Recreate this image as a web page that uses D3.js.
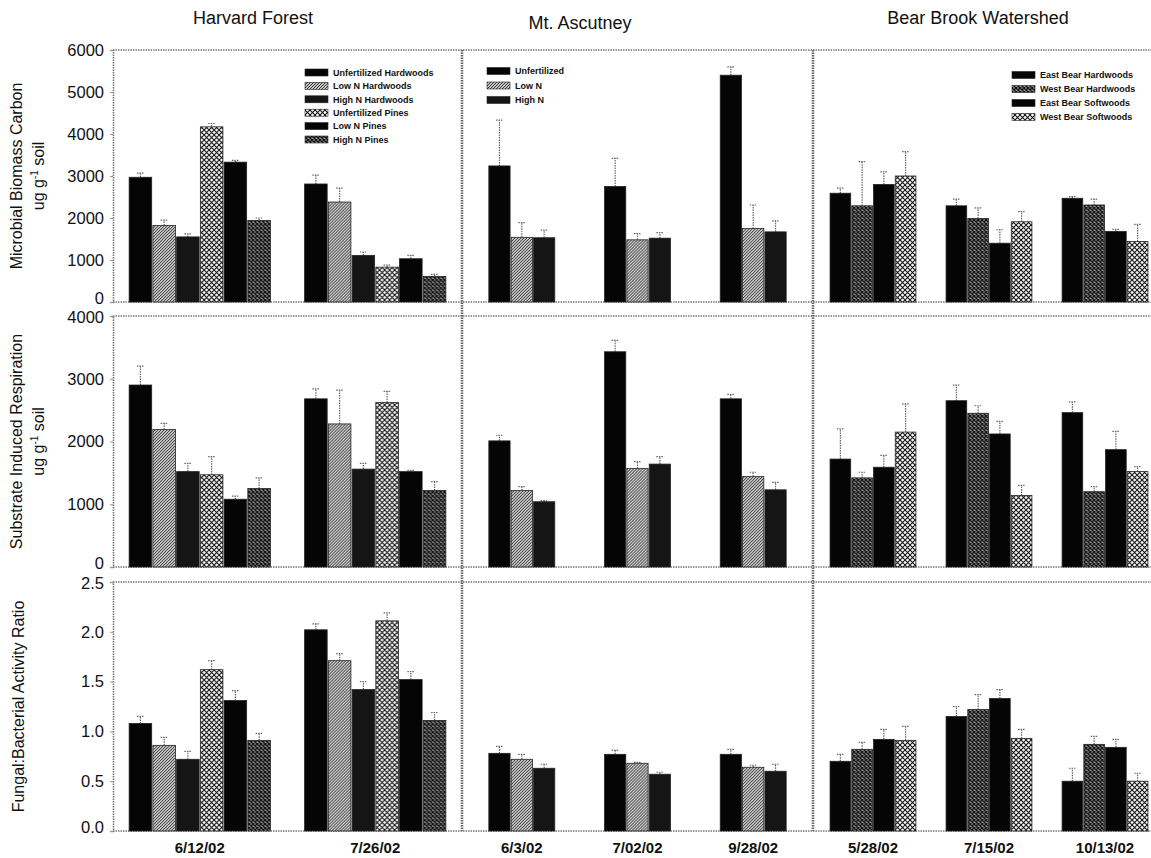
<!DOCTYPE html>
<html>
<head>
<meta charset="utf-8">
<script src="https://cdn.jsdelivr.net/npm/d3@7"></script>
<style>
  body { margin: 0; background: #fff; }
  svg { display: block; }
  text { font-family: "Liberation Sans", Arial, sans-serif; fill: #111; }
</style>
</head>
<body>
<svg id="chart" width="1151" height="858"></svg>
<script>
// ---- Sites, dates and series ----
const siteNames = ["Harvard Forest", "Mt. Ascutney", "Bear Brook Watershed"];

const harvardDates = ["6/12/02", "7/26/02"];
const harvardSeries = ["Unfertilized Hardwoods", "Low N Hardwoods", "High N Hardwoods",
                       "Unfertilized Pines", "Low N Pines", "High N Pines"];
const ascutneyDates = ["6/3/02", "7/02/02", "9/28/02"];
const ascutneySeries = ["Unfertilized", "Low N", "High N"];
const bearDates = ["5/28/02", "7/15/02", "10/13/02"];
const bearSeries = ["East Bear Hardwoods", "West Bear Hardwoods", "East Bear Softwoods", "West Bear Softwoods"];

// fill style per series (solid / hatch / cross / dense)
const harvardFills = ["solid", "hatch", "solid2", "cross", "solid", "dense"];
const ascutneyFills = ["solid", "hatch", "solid2"];
const bearFills = ["solid", "dense", "solid", "cross"];

// ---- Microbial biomass carbon (ug g-1 soil): [date][series], upper error ----
const harvardMBC = [[2970, 1820, 1550, 4170, 3330, 1940], [2810, 2380, 1110, 830, 1030, 610]];
const harvardMBCErr = [[100, 130, 70, 80, 40, 60], [210, 330, 80, 50, 80, 50]];
const ascutneyMBC = [[3240, 1540, 1530], [2750, 1480, 1520], [5400, 1750, 1670]];
const ascutneyMBCErr = [[1090, 350, 180], [670, 150, 130], [200, 560, 260]];
const bearMBC = [[2590, 2290, 2800, 3000], [2290, 1990, 1400, 1910], [2470, 2310, 1680, 1440]];
const bearMBCErr = [[120, 1050, 300, 580], [160, 250, 320, 240], [40, 140, 50, 410]];

// ---- Substrate induced respiration (ug g-1 soil) ----
const harvardSIR = [[2900, 2190, 1520, 1470, 1080, 1250], [2680, 2280, 1560, 2620, 1520, 1220]];
const harvardSIRErr = [[300, 100, 130, 290, 50, 170], [160, 540, 90, 180, 20, 140]];
const ascutneySIR = [[2010, 1220, 1040], [3430, 1570, 1640], [2680, 1440, 1230]];
const ascutneySIRErr = [[90, 60, 20], [180, 110, 120], [70, 70, 120]];
const bearSIR = [[1720, 1420, 1590, 2150], [2650, 2450, 2120, 1140], [2460, 1200, 1870, 1520]];
const bearSIRErr = [[480, 90, 190, 450], [250, 120, 200, 160], [170, 80, 290, 80]];

// ---- Fungal:bacterial activity ratio ----
const harvardFBA = [[1.08, 0.86, 0.72, 1.62, 1.31, 0.91], [2.02, 1.71, 1.42, 2.11, 1.52, 1.11]];
const harvardFBAErr = [[0.07, 0.08, 0.08, 0.09, 0.10, 0.07], [0.06, 0.07, 0.08, 0.08, 0.08, 0.08]];
const ascutneyFBA = [[0.78, 0.72, 0.63], [0.77, 0.68, 0.57], [0.77, 0.64, 0.60]];
const ascutneyFBAErr = [[0.07, 0.05, 0.04], [0.04, 0.01, 0.02], [0.05, 0.02, 0.07]];
const bearFBA = [[0.70, 0.82, 0.92, 0.91], [1.15, 1.22, 1.33, 0.93], [0.50, 0.87, 0.84, 0.50]];
const bearFBAErr = [[0.07, 0.07, 0.10, 0.14], [0.10, 0.15, 0.09, 0.09], [0.13, 0.08, 0.08, 0.08]];

// ---- Axis ticks ----
const mbcTicks = [0, 1000, 2000, 3000, 4000, 5000, 6000];
const sirTicks = [0, 1000, 2000, 3000, 4000];
const fbaTicks = [0, 0.5, 1.0, 1.5, 2.0, 2.5];

// ---- Layout ----
const svg = d3.select("#chart");
const W = 1151, H = 858;

const rows = [
  { top: 50, bottom: 302, max: 6000, ticks: mbcTicks, fmt: d3.format("d"),
    title: ["Microbial Biomass Carbon", "ug g"], sup: true,
    data: [harvardMBC, ascutneyMBC, bearMBC], err: [harvardMBCErr, ascutneyMBCErr, bearMBCErr] },
  { top: 316, bottom: 567, max: 4000, ticks: sirTicks, fmt: d3.format("d"),
    title: ["Substrate Induced Respiration", "ug g"], sup: true,
    data: [harvardSIR, ascutneySIR, bearSIR], err: [harvardSIRErr, ascutneySIRErr, bearSIRErr] },
  { top: 582, bottom: 831, max: 2.5, ticks: fbaTicks, fmt: d3.format(".1f"),
    title: ["Fungal:Bacterial Activity Ratio"], sup: false,
    data: [harvardFBA, ascutneyFBA, bearFBA], err: [harvardFBAErr, ascutneyFBAErr, bearFBAErr] }
];

const cols = [
  { x0: 113, x1: 462, pi: 0.195, po: 0.092, dates: harvardDates, series: harvardSeries, fills: harvardFills },
  { x0: 462, x1: 813, pi: 0.43, po: 0.232, dates: ascutneyDates, series: ascutneySeries, fills: ascutneyFills },
  { x0: 813, x1: 1165, pi: 0.26, po: 0.147, dates: bearDates, series: bearSeries, fills: bearFills }
];

// ---- Fill patterns ----
const defs = svg.append("defs");
function pattern(id, size, paths, sw, bg, ink) {
  const p = defs.append("pattern").attr("id", id).attr("patternUnits", "userSpaceOnUse")
    .attr("width", size).attr("height", size);
  p.append("rect").attr("width", size).attr("height", size).attr("fill", bg);
  p.append("path").attr("d", paths).attr("stroke", ink).attr("stroke-width", sw).attr("fill", "none");
}
pattern("hatch", 3, "M-1,1 l2,-2 M0,3 l3,-3 M2,4 l2,-2", 1.0, "#c8c8c8", "#333");
pattern("cross", 5, "M0,0 L5,5 M5,0 L0,5", 1.1, "#fff", "#111");
pattern("dense", 4, "M0,0 L4,4 M4,0 L0,4", 1.3, "#999", "#111");

const fillFor = f => ({ solid: "#050505", solid2: "#151515", hatch: "url(#hatch)", cross: "url(#cross)", dense: "url(#dense)" }[f]);

const frameColor = "#777";

// ---- Panels ----
rows.forEach((row, ri) => {
  const y = d3.scaleLinear().domain([0, row.max]).range([row.bottom, row.top]);

  // left axis with ticks and labels
  const axis = svg.append("g").attr("transform", `translate(${cols[0].x0},0)`)
    .call(d3.axisLeft(y).tickValues(row.ticks).tickFormat(row.fmt).tickSize(3).tickPadding(6));
  axis.select(".domain").attr("stroke", frameColor).attr("stroke-width", 1.6).attr("stroke-dasharray", "1.5,1");
  axis.selectAll(".tick line").attr("stroke", "#999");
  axis.selectAll(".tick text").attr("font-size", 16.5).attr("fill", "#111")
    .attr("font-family", "Liberation Sans, Arial, sans-serif")
    .attr("dy", d => d === 0 ? "0.12em" : (d === row.max && ri > 0 ? "0.4em" : "0.32em"));

  // top and bottom frame lines
  [row.top, row.bottom].forEach(yy => {
    svg.append("line").attr("x1", cols[0].x0).attr("x2", W).attr("y1", yy).attr("y2", yy)
      .attr("stroke", frameColor).attr("stroke-width", 1.4).attr("stroke-dasharray", "1.5,1");
  });

  // axis title
  const cy = (row.top + row.bottom) / 2;
  if (row.sup) {
    svg.append("text").attr("transform", `translate(22,${cy}) rotate(-90)`)
      .attr("text-anchor", "middle").attr("font-size", 16).text(row.title[0]);
    const t2 = svg.append("text").attr("transform", `translate(44,${cy}) rotate(-90)`)
      .attr("text-anchor", "middle").attr("font-size", 16);
    t2.append("tspan").text("ug g");
    t2.append("tspan").attr("font-size", 10).attr("dy", -6).text("-1");
    t2.append("tspan").attr("dy", 6).text(" soil");
  } else {
    svg.append("text").attr("transform", `translate(24,${cy}) rotate(-90)`)
      .attr("text-anchor", "middle").attr("font-size", 16).text(row.title[0]);
  }

  // bars per site
  cols.forEach((col, ci) => {
    const xg = d3.scaleBand().domain(col.dates).range([col.x0, col.x1])
      .paddingInner(col.pi).paddingOuter(col.po);
    const xs = d3.scaleBand().domain(col.series).range([0, xg.bandwidth()]).paddingInner(0.05);
    const vals = row.data[ci], errs = row.err[ci];

    const g = svg.append("g");
    col.dates.forEach((d, di) => {
      const gg = g.append("g").attr("transform", `translate(${xg(d)},0)`);
      const recs = col.series.map((s, si) => ({ s, v: vals[di][si], e: errs[di][si], f: col.fills[si] }));
      // error bars (upper only, dotted)
      recs.forEach(r => {
        const cx = xs(r.s) + xs.bandwidth() / 2;
        gg.append("line").attr("x1", cx).attr("x2", cx).attr("y1", y(r.v)).attr("y2", y(r.v + r.e))
          .attr("stroke", "#666").attr("stroke-width", 1.2).attr("stroke-dasharray", "1.5,1");
        gg.append("line").attr("x1", cx - 3.5).attr("x2", cx + 3.5).attr("y1", y(r.v + r.e)).attr("y2", y(r.v + r.e))
          .attr("stroke", "#666").attr("stroke-width", 1.2).attr("stroke-dasharray", "1.5,1");
      });
      gg.selectAll("rect.bar").data(recs).join("rect").attr("class", "bar")
        .attr("x", r => xs(r.s)).attr("width", xs.bandwidth())
        .attr("y", r => y(r.v)).attr("height", r => y(0) - y(r.v))
        .attr("fill", r => fillFor(r.f)).attr("stroke", "#222").attr("stroke-width", 0.8);
    });

    // date labels below the bottom row
    if (ri === rows.length - 1) {
      col.dates.forEach(d => {
        svg.append("text").attr("x", xg(d) + xg.bandwidth() / 2).attr("y", 853)
          .attr("text-anchor", "middle").attr("font-size", 15).attr("font-weight", "bold").text(d);
      });
    }
  });
});

// ---- Column dividers ----
[462, 813].forEach(x => {
  svg.append("line").attr("x1", x).attr("x2", x).attr("y1", rows[0].top).attr("y2", rows[2].bottom)
    .attr("stroke", "#666").attr("stroke-width", 2.6).attr("stroke-dasharray", "1.5,1");
});

// ---- Site titles ----
const titlePos = [[253, 24], [580, 29], [978, 24]];
siteNames.forEach((n, i) => {
  svg.append("text").attr("x", titlePos[i][0]).attr("y", titlePos[i][1])
    .attr("text-anchor", "middle").attr("font-size", 18).text(n);
});

// ---- Legends ----
function legend(x, y0, step, names, fills) {
  names.forEach((n, i) => {
    const yy = y0 + i * step;
    svg.append("rect").attr("x", x).attr("y", yy - 3.5).attr("width", 23).attr("height", 7)
      .attr("fill", fillFor(fills[i])).attr("stroke", "#222").attr("stroke-width", 0.6);
    svg.append("text").attr("x", x + 28).attr("y", yy + 3.3)
      .attr("font-size", 9).attr("font-weight", "bold").text(n);
  });
}
legend(305, 72.5, 13.4, harvardSeries, harvardFills);
legend(487, 71, 14.5, ascutneySeries, ascutneyFills);
legend(1012, 75, 14, bearSeries, bearFills);
</script>
</body>
</html>
